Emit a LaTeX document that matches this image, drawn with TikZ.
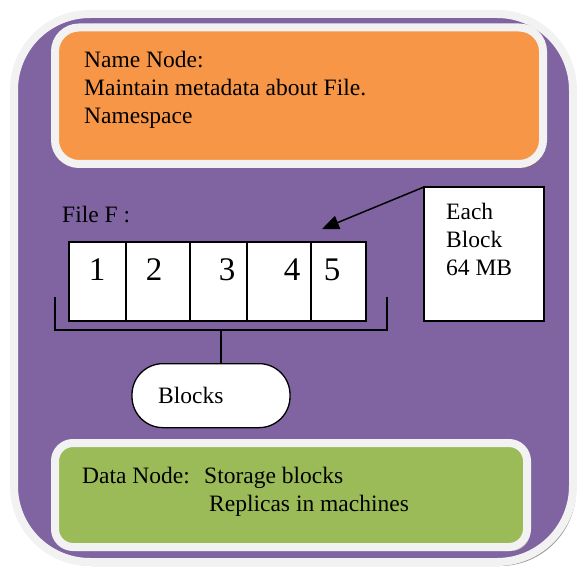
\documentclass[tikz,border=0pt]{standalone}
\usepackage{fontspec}
\setmainfont{Liberation Serif}
\newfontfamily\labelface{Liberation Serif}
\usetikzlibrary{arrows.meta}
\definecolor{panelpurple}{RGB}{128,100,162}
\definecolor{nameorange}{RGB}{247,150,70}
\definecolor{datagreen}{RGB}{155,187,89}
\definecolor{rimgray}{RGB}{242,242,242}
\definecolor{shadegray}{RGB}{150,150,150}
\definecolor{shadebrown}{RGB}{150,92,84}
\tikzset{
  txt/.style={inner sep=0pt, anchor=base west, font=\labelface\fontsize{23.5}{27.5}\selectfont},
  digit/.style={inner sep=0pt, anchor=base, font=\labelface\fontsize{33}{38}\selectfont},
  cell/.style={draw=black, line width=1.2pt, fill=white, anchor=north west, inner sep=0pt, outer sep=0pt},
  panel/.style={draw=rimgray, line width=8pt},
}
\begin{document}
\begin{tikzpicture}[x=1pt,y=-1pt]
\useasboundingbox (0,0) rectangle (577,569);

% outer panel with its drop shadow
\fill[shadegray, rounded corners=76pt] (17,17) rectangle (576,566);
\draw[panel, fill=panelpurple, rounded corners=76pt] (14,14) rectangle (573,562);

% name node box
\fill[shadebrown, rounded corners=24pt] (57,31) rectangle (545,168);
\node[panel, fill=nameorange, rounded corners=24pt, minimum width=488pt, minimum height=136.5pt, anchor=north west, inner sep=0pt, outer sep=0pt] (namebox) at (55,27.5) {};
\node[txt] (nn1) at (84,68) {Name Node:};
\node[txt] (nn2) at (84,96) {Maintain metadata about File.};
\node[txt] (nn3) at (84,123.5) {Namespace};

% file split into blocks
\node[txt] (filef) at (62,222) {File F :};
\node[cell, minimum width=57pt, minimum height=79pt] (b1) at (69,242) {};
\node[cell, minimum width=64pt, minimum height=79pt] (b2) at (b1.north east) {};
\node[cell, minimum width=57pt, minimum height=79pt] (b3) at (b2.north east) {};
\node[cell, minimum width=64pt, minimum height=79pt] (b4) at (b3.north east) {};
\node[cell, minimum width=55pt, minimum height=79pt] (b5) at (b4.north east) {};
\node[digit] (d1) at (97,280) {1};
\node[digit] (d2) at (154,280) {2};
\node[digit] (d3) at (227,280) {3};
\node[digit] (d4) at (292,280) {4};
\node[digit] (d5) at (332,280) {5};

% block size note with its pointer
\node[cell, minimum width=120pt, minimum height=134pt] (each) at (424,187) {};
\node[txt] (e1) at (446,219) {Each};
\node[txt] (e2) at (446,247) {Block};
\node[txt] (e3) at (446,275) {64 MB};
\coordinate (tip) at (322,229);
\draw[line width=1.5pt, -{Triangle[length=17pt,width=14pt]}] (each.north west) -- (tip);

% bracket under the blocks and the label it leads to
\coordinate (bl) at (55,297);
\coordinate (br) at (387,297);
\coordinate (bm) at (221,330);
\draw[line width=1.3pt] (bl) |- (br |- bm) -- (br);
\node[draw=black, line width=1.3pt, fill=white, rounded corners=31pt, minimum width=158pt, minimum height=64pt, anchor=north, inner sep=0pt] (blocks) at (211,363) {};
\node[txt] (blockstxt) at (158,403) {Blocks};
\draw[line width=1.5pt] (bm) -- (bm |- blocks.north);

% data node box
\fill[shadegray, rounded corners=18pt] (58,446) rectangle (530,551);
\node[panel, fill=datagreen, rounded corners=18pt, minimum width=472pt, minimum height=104pt, anchor=north west, inner sep=0pt, outer sep=0pt] (databox) at (55,443) {};
\node[txt] (dn1) at (82,483) {Data Node:};
\node[txt] (dn2) at (204,483) {Storage blocks};
\node[txt] (dn3) at (209,511) {Replicas in machines};
\end{tikzpicture}
\end{document}
